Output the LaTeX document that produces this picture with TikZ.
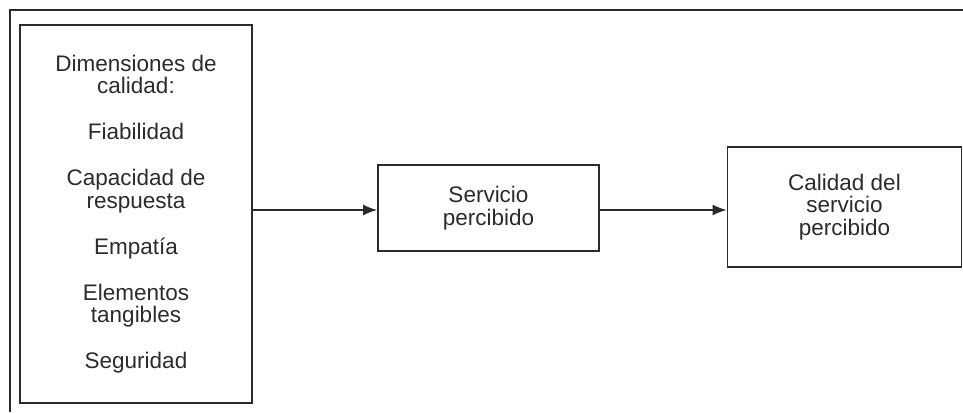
\documentclass[tikz,border=0pt]{standalone}
\usepackage{fontspec}
\setmainfont{Liberation Sans}
\usetikzlibrary{arrows.meta}
\definecolor{ink}{HTML}{2B2B2B}
\tikzset{
  box/.style={draw=ink, line width=1.7pt, rectangle, inner sep=0pt, align=center,
    text=ink, font=\fontsize{22.5}{22.5}\selectfont},
  arr/.style={draw=ink, line width=1.5pt, -{Latex[length=14pt,width=11pt]}},
  frame/.style={draw=ink, line width=2pt}
}
\begin{document}
\begin{tikzpicture}[x=1pt,y=-1pt]
\useasboundingbox (0,0) rectangle (963,412);
\draw[frame] (963,10) -- (10,10) -- (10,412);
\node[box, minimum width=232pt, minimum height=378pt] (dims) at (136,214)
  {Dimensiones de\\calidad:\\[23.5pt]Fiabilidad\\[23.5pt]Capacidad de\\respuesta\\[23.5pt]Empatía\\[23.5pt]Elementos\\tangibles\\[23.5pt]Seguridad};
\node[box, minimum width=221pt, minimum height=86pt] (serv) at (488.5,208)
  {Servicio\\percibido};
\node[box, minimum width=234pt, minimum height=120pt] (cal) at (844.5,207)
  {Calidad del\\servicio\\percibido};
\draw[arr] (dims.east |- serv.center) ++(0,2) coordinate (a1) -- (a1 -| serv.west);
\draw[arr] (serv.east) ++(0,2) coordinate (a2) -- (a2 -| cal.west);
\end{tikzpicture}
\end{document}
